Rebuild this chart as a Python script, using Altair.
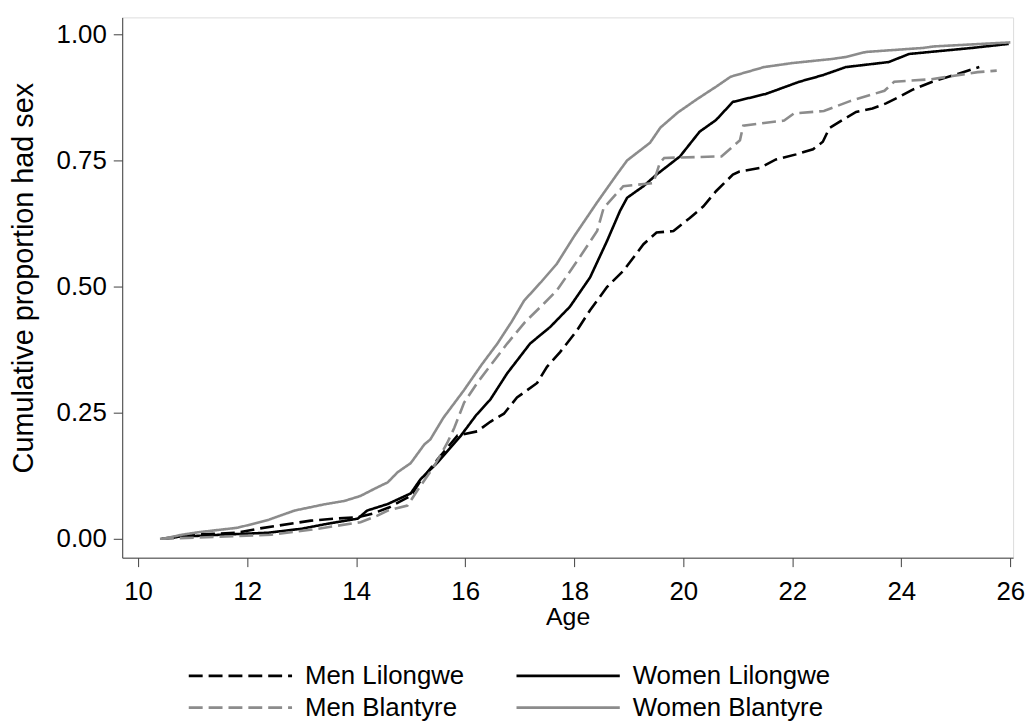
import altair as alt
import pandas as pd

series_order = ["Men Lilongwe", "Women Lilongwe", "Men Blantyre", "Women Blantyre"]

ml_age = [10.43, 11.0, 11.8, 12.2, 12.56, 13.17, 13.6, 14.03, 14.3, 14.6, 15.0, 15.18, 15.49, 15.86,
          16.22, 16.46, 16.71, 16.95, 17.32, 17.5, 17.74, 18.05, 18.29, 18.6, 18.9, 19.27, 19.51,
          19.82, 20.12, 20.37, 20.6, 20.91, 21.03, 21.4, 21.7, 22.07, 22.38, 22.56, 22.68, 22.93,
          23.17, 23.47, 23.72, 23.96, 24.2, 24.57, 25.05, 25.43]
ml_p = [0.0, 0.008, 0.012, 0.02, 0.026, 0.036, 0.04, 0.043, 0.05, 0.062, 0.085, 0.115, 0.157, 0.205,
        0.213, 0.232, 0.248, 0.28, 0.309, 0.341, 0.37, 0.413, 0.453, 0.499, 0.531, 0.584, 0.607,
        0.61, 0.636, 0.659, 0.689, 0.722, 0.728, 0.735, 0.752, 0.762, 0.772, 0.787, 0.814, 0.831,
        0.846, 0.853, 0.863, 0.876, 0.89, 0.906, 0.922, 0.935]

wl_age = [10.5, 10.74, 11.5, 12.38, 13.0, 13.48, 14.03, 14.2, 14.58, 15.0, 15.18, 15.49, 15.91, 16.2,
          16.46, 16.77, 17.19, 17.56, 17.92, 18.29, 18.6, 18.84, 18.97, 19.27, 19.51, 19.94, 20.3,
          20.6, 20.91, 21.52, 22.13, 22.56, 22.98, 23.77, 24.14, 25.3, 25.97]
wl_p = [0.0, 0.004, 0.008, 0.012, 0.02, 0.03, 0.04, 0.056, 0.069, 0.09, 0.118, 0.151, 0.203, 0.245,
        0.276, 0.328, 0.387, 0.42, 0.46, 0.518, 0.59, 0.65, 0.676, 0.699, 0.722, 0.758, 0.807,
        0.83, 0.866, 0.882, 0.906, 0.919, 0.935, 0.945, 0.961, 0.973, 0.981]

mb_age = [10.4, 11.5, 12.44, 13.3, 14.08, 14.39, 14.58, 14.94, 15.18, 15.43, 15.67, 15.8, 15.98, 16.22,
          16.77, 17.1, 17.44, 17.68, 18.1, 18.42, 18.54, 18.9, 19.45, 19.57, 19.65, 20.7, 21.04,
          21.1, 21.85, 22.03, 22.58, 23.07, 23.69, 23.87, 24.55, 25.4, 25.75]
mb_p = [0.0, 0.004, 0.008, 0.02, 0.033, 0.046, 0.056, 0.066, 0.105, 0.144, 0.19, 0.22, 0.27, 0.309,
        0.387, 0.43, 0.466, 0.492, 0.558, 0.61, 0.656, 0.699, 0.705, 0.745, 0.755, 0.758, 0.79,
        0.819, 0.829, 0.843, 0.848, 0.868, 0.888, 0.906, 0.911, 0.925, 0.928]

wb_age = [10.45, 10.8, 11.1, 11.83, 12.4, 12.87, 13.4, 13.78, 14.08, 14.35, 14.58, 14.76, 15.0, 15.25,
          15.36, 15.6, 15.98, 16.3, 16.59, 16.85, 17.08, 17.4, 17.68, 18.0, 18.42, 18.78, 18.97,
          19.39, 19.58, 19.9, 20.26, 20.6, 20.87, 21.48, 22.0, 22.72, 22.98, 23.35, 24.4, 24.6,
          25.3, 26.0]
wb_p = [0.0, 0.008, 0.013, 0.022, 0.038, 0.056, 0.068, 0.075, 0.085, 0.1, 0.112, 0.132, 0.15, 0.187,
        0.197, 0.24, 0.295, 0.345, 0.387, 0.43, 0.472, 0.51, 0.545, 0.6, 0.667, 0.722, 0.75,
        0.785, 0.815, 0.845, 0.872, 0.896, 0.916, 0.935, 0.943, 0.951, 0.955, 0.965, 0.973, 0.976,
        0.98, 0.984]

x_ticks = [10, 12, 14, 16, 18, 20, 22, 24, 26]
y_ticks = [0.0, 0.25, 0.5, 0.75, 1.0]

rows = []
for name, ages, ps in [("Men Lilongwe", ml_age, ml_p), ("Women Lilongwe", wl_age, wl_p),
                       ("Men Blantyre", mb_age, mb_p), ("Women Blantyre", wb_age, wb_p)]:
    for i, (a, p) in enumerate(zip(ages, ps)):
        rows.append({"series": name, "age": a, "p": p, "i": i})
df = pd.DataFrame(rows)

font = "Liberation Sans"

legend_kw = dict(title=None, orient="none", legendX=106, legendY=650,
                 direction="horizontal", columns=2, symbolType="M-5.2,0H5.2",
                 symbolSize=400, symbolStrokeWidth=2.6, labelFontSize=26,
                 labelFont=font, labelColor="#000000", labelOffset=52,
                 columnPadding=46, rowPadding=6, labelLimit=400)

chart = alt.Chart(df).mark_line(strokeWidth=2.6, interpolate="linear").encode(
    x=alt.X("age:Q", title="Age",
            scale=alt.Scale(domain=[9.708, 26.05], nice=False, zero=False),
            axis=alt.Axis(values=x_ticks, grid=False, tickSize=9, labelPadding=12,
                          labelFontSize=26, titleFontSize=25, titlePadding=0,
                          domainColor="#404040", tickColor="#404040", labelColor="#000000",
                          titleFontWeight="normal", titleColor="#000000", labelFont=font,
                          titleFont=font)),
    y=alt.Y("p:Q", title="Cumulative proportion had sex",
            scale=alt.Scale(domain=[-0.0374, 1.0335], nice=False, zero=False),
            axis=alt.Axis(values=y_ticks, format=".2f", grid=False, tickSize=9, labelPadding=7,
                          labelFontSize=26, titleFontSize=29, titleX=-99, titleY=262,
                          titleBaseline="middle", titleAngle=270,
                          domainColor="#404040", tickColor="#404040", labelColor="#000000",
                          titleFontWeight="normal", titleColor="#000000", labelFont=font,
                          titleFont=font)),
    color=alt.Color("series:N", scale=alt.Scale(domain=series_order,
                                                range=["#000000", "#000000", "#8c8c8c", "#8c8c8c"]),
                    legend=alt.Legend(**legend_kw)),
    strokeDash=alt.StrokeDash("series:N", scale=alt.Scale(domain=series_order,
                                                          range=[[14, 6], [1, 0], [14, 6], [1, 0]]),
                              legend=alt.Legend(**legend_kw)),
    order="i:Q",
    detail="series:N",
).properties(
    width=897, height=544,
    autosize=alt.AutoSizeParams(type="none"),
    padding={"left": 115, "top": 7, "right": 12, "bottom": 166},
).configure_view(stroke=None).configure(font=font, background="white")

chart.save("out.html", embed_options={"renderer": "svg", "actions": False})
